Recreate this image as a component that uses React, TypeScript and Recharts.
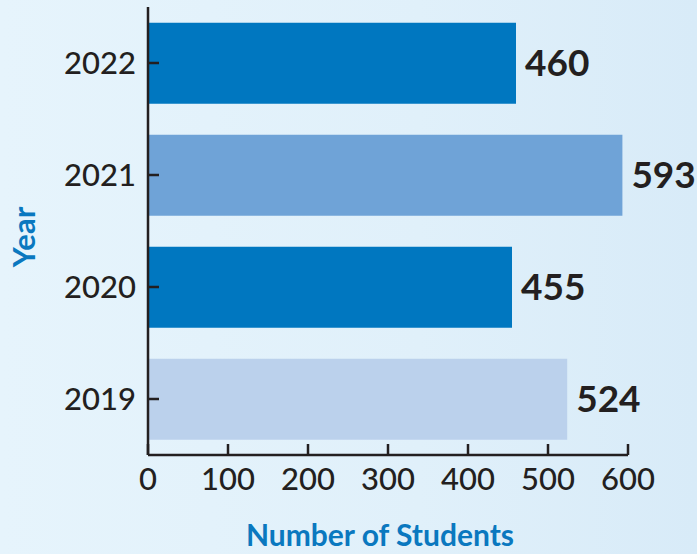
import React from "react";
import { BarChart, Bar, XAxis, YAxis, Cell, LabelList, Label } from "recharts";

const years = ["2022", "2021", "2020", "2019"];
const students = [460, 593, 455, 524];
const barColors = ["#0077c0", "#6fa3d7", "#0077c0", "#bbd1ec"];
const xTicks = [0, 100, 200, 300, 400, 500, 600];

const data = years.map((year, i) => ({ year, students: students[i] }));

const INK = "#231f20";
const BLUE = "#0a78bf";
const FONT = "Lato, 'Open Sans', sans-serif";

function YTick({ x, y, payload }: any) {
    return (
        <g>
            <line x1={x + 12} x2={x + 23} y1={y} y2={y} stroke={INK} strokeWidth={2.5} />
            <text x={x} y={y} dy="0.36em" textAnchor="end" fontSize={31} fontWeight={500} fill={INK} fontFamily={FONT}>
                {payload.value}
            </text>
        </g>
    );
}

function XTick({ x, y, payload }: any) {
    return (
        <g>
            <line x1={x} x2={x} y1={y - 12} y2={y - 23} stroke={INK} strokeWidth={2.5} />
            <text x={x} y={y} dy="0.75em" textAnchor="middle" fontSize={31} fontWeight={500} fill={INK} fontFamily={FONT}>
                {payload.value}
            </text>
        </g>
    );
}

function YearTitle({ viewBox }: any) {
    const cx = viewBox.x + 23;
    const cy = viewBox.y + viewBox.height / 2 + 6;
    return (
        <text x={cx} y={cy} transform={`rotate(-90 ${cx} ${cy})`} textAnchor="middle" dominantBaseline="central"
            fontSize={31} fontWeight={700} fill={BLUE} fontFamily={FONT}>
            Year
        </text>
    );
}

export default function App() {
    return (
        <div style={{ position: "absolute", left: 0, top: 0, width: 697, height: 554,
            background: "linear-gradient(90deg, #e6f4fc 0%, #e0f0fa 60%, #d8ebf8 100%)" }}>
            <BarChart width={697} height={554} data={data} layout="vertical"
                margin={{ top: 7, right: 69, bottom: 0, left: 0 }} barCategoryGap="14%">
                <XAxis type="number" domain={[0, 600]} ticks={xTicks} height={99}
                    axisLine={{ stroke: INK, strokeWidth: 2.5 }} tickLine={false} tickSize={0} tickMargin={12}
                    tick={<XTick />} interval={0}>
                    <Label value="Number of Students" position="insideBottom" offset={8} dx={-8}
                        fontSize={30} fontWeight={700} fill={BLUE} fontFamily={FONT} />
                </XAxis>
                <YAxis type="category" dataKey="year" width={148}
                    axisLine={{ stroke: INK, strokeWidth: 2.5 }} tickLine={false} tickSize={0} tickMargin={12}
                    tick={<YTick />} interval={0}>
                    <Label content={<YearTitle />} />
                </YAxis>
                <Bar dataKey="students" isAnimationActive={false}>
                    {data.map((d, i) => (
                        <Cell key={d.year} fill={barColors[i]} />
                    ))}
                    <LabelList dataKey="students" position="right" offset={9}
                        fontSize={37} fontWeight={700} fill={INK} fontFamily={FONT} />
                </Bar>
            </BarChart>
        </div>
    );
}
